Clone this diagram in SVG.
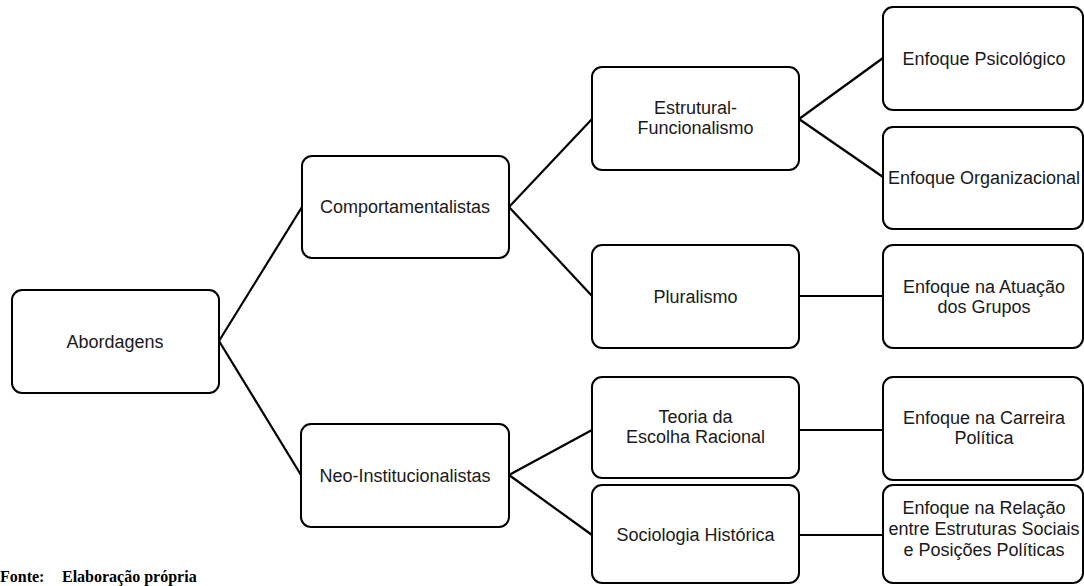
<svg xmlns="http://www.w3.org/2000/svg" width="1084" height="586" viewBox="0 0 1084 586">
<style>
.box{fill:#fff;stroke:#000;stroke-width:2}
.lbl{font-family:"Liberation Sans",Arial,sans-serif;font-size:18px;fill:#1a1a1a;text-anchor:middle}
.con{stroke:#000;stroke-width:2.2;fill:none}
.src{font-family:"Liberation Serif","Times New Roman",serif;font-size:16px;font-weight:bold;fill:#000}
</style>
<rect width="1084" height="586" fill="#fff"/>
<g id="connectors">
<line class="con" x1="219" y1="341" x2="302" y2="207"/>
<line class="con" x1="219" y1="341" x2="301" y2="475"/>
<line class="con" x1="509" y1="207" x2="592" y2="119"/>
<line class="con" x1="509" y1="207" x2="592" y2="296"/>
<line class="con" x1="799" y1="119" x2="883" y2="58"/>
<line class="con" x1="799" y1="119" x2="883" y2="177"/>
<line class="con" x1="799" y1="296" x2="883" y2="296"/>
<line class="con" x1="509" y1="475" x2="592" y2="430"/>
<line class="con" x1="509" y1="475" x2="592" y2="535"/>
<line class="con" x1="799" y1="430" x2="883" y2="430"/>
<line class="con" x1="799" y1="535" x2="883" y2="535"/>
</g>
<g id="abordagens">
<rect class="box" x="12" y="290" width="207" height="103" rx="10"/>
<text class="lbl" x="115" y="348">Abordagens</text>
</g>
<g id="comportamentalistas">
<rect class="box" x="302" y="156" width="207" height="102" rx="10"/>
<text class="lbl" x="405" y="213">Comportamentalistas</text>
</g>
<g id="neo-institucionalistas">
<rect class="box" x="301" y="424" width="208" height="103" rx="10"/>
<text class="lbl" x="405" y="482">Neo-Institucionalistas</text>
</g>
<g id="estrutural-funcionalismo">
<rect class="box" x="592" y="67" width="207" height="103" rx="10"/>
<text class="lbl" x="695.5" y="114">Estrutural-</text>
<text class="lbl" x="695.5" y="134">Funcionalismo</text>
</g>
<g id="pluralismo">
<rect class="box" x="592" y="245" width="207" height="103" rx="10"/>
<text class="lbl" x="695.5" y="303">Pluralismo</text>
</g>
<g id="teoria-escolha-racional">
<rect class="box" x="592" y="377" width="207" height="101" rx="10"/>
<text class="lbl" x="695.5" y="423">Teoria da</text>
<text class="lbl" x="695.5" y="443">Escolha Racional</text>
</g>
<g id="sociologia-historica">
<rect class="box" x="592" y="485" width="207" height="98" rx="10"/>
<text class="lbl" x="695.5" y="541">Sociologia Histórica</text>
</g>
<g id="enfoque-psicologico">
<rect class="box" x="883" y="7" width="200" height="103" rx="10"/>
<text class="lbl" x="984" y="65">Enfoque Psicológico</text>
</g>
<g id="enfoque-organizacional">
<rect class="box" x="883" y="127" width="200" height="102" rx="10"/>
<text class="lbl" x="984" y="184">Enfoque Organizacional</text>
</g>
<g id="enfoque-atuacao-grupos">
<rect class="box" x="883" y="245" width="200" height="103" rx="10"/>
<text class="lbl" x="984" y="293">Enfoque na Atuação</text>
<text class="lbl" x="984" y="313">dos Grupos</text>
</g>
<g id="enfoque-carreira-politica">
<rect class="box" x="883" y="377" width="200" height="103" rx="10"/>
<text class="lbl" x="984" y="424">Enfoque na Carreira</text>
<text class="lbl" x="984" y="444">Política</text>
</g>
<g id="enfoque-relacao">
<rect class="box" x="883" y="485" width="200" height="98" rx="10"/>
<text class="lbl" x="984" y="514">Enfoque na Relação</text>
<text class="lbl" x="984" y="535">entre Estruturas Sociais</text>
<text class="lbl" x="984" y="556">e Posições Políticas</text>
</g>
<g id="source">
<text class="src" x="0" y="582">Fonte:</text>
<text class="src" x="62" y="582">Elaboração própria</text>
</g>
</svg>
